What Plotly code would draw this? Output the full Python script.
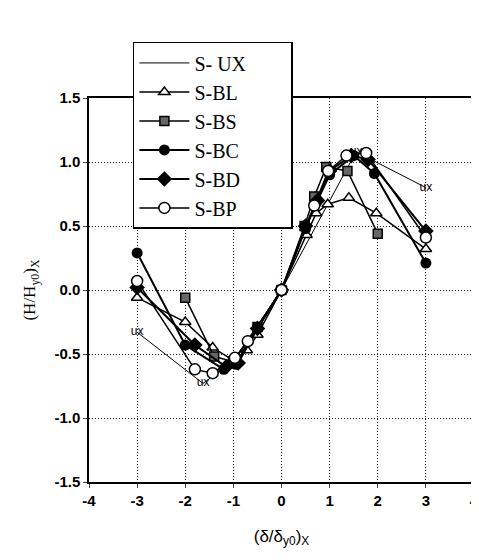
import plotly.graph_objects as go

# data
ux_x = [-3, -1.63, -1.0, 0, 1.55, 3]
ux_y = [-0.33, -0.73, -0.55, 0, 1.08, 0.80]

bl_x = [-3, -2, -1.43, -1.0, -0.72, -0.5, 0, 0.52, 0.72, 0.96, 1.4, 1.97, 3]
bl_y = [-0.06, -0.25, -0.45, -0.55, -0.47, -0.35, 0, 0.43, 0.60, 0.67, 0.72, 0.60, 0.32]

bs_x = [-2, -1.4, -1.0, -0.5, 0, 0.48, 0.68, 0.93, 1.37, 2.0]
bs_y = [-0.06, -0.52, -0.56, -0.29, 0, 0.50, 0.73, 0.96, 0.93, 0.44]

bc_x = [-3, -2, -1.2, -0.95, -0.5, 0, 0.5, 0.72, 1.0, 1.5, 1.93, 3]
bc_y = [0.29, -0.43, -0.62, -0.58, -0.30, 0, 0.48, 0.68, 0.90, 1.05, 0.91, 0.21]

bd_x = [-3, -1.8, -1.15, -0.9, -0.5, 0, 0.5, 0.75, 1.0, 1.45, 1.8, 3]
bd_y = [0.02, -0.43, -0.60, -0.57, -0.30, 0, 0.50, 0.70, 0.93, 1.05, 1.02, 0.46]

bp_x = [-3, -1.8, -1.43, -0.97, -0.7, 0, 0.68, 0.97, 1.35, 1.76, 3]
bp_y = [0.07, -0.62, -0.65, -0.53, -0.40, 0, 0.66, 0.93, 1.05, 1.07, 0.41]

x_ticks = [-4, -3, -2, -1, 0, 1, 2, 3, 4]
y_ticks = [-1.5, -1.0, -0.5, 0.0, 0.5, 1.0, 1.5]

pad = '\u00a0' * 8

fig = go.Figure()

fig.add_trace(go.Scatter(x=ux_x, y=ux_y, name='S- UX' + pad, mode='lines+text',
                         text=['ux'] * len(ux_x), textposition='middle center',
                         textfont=dict(family='Liberation Sans', size=12, color='#000000'),
                         line=dict(color='black', width=1)))
fig.add_trace(go.Scatter(x=bl_x, y=bl_y, name='S-BL', mode='lines+markers',
                         line=dict(color='black', width=1.5),
                         marker=dict(symbol='triangle-up', size=10, color='white',
                                     line=dict(color='black', width=1.5))))
fig.add_trace(go.Scatter(x=bs_x, y=bs_y, name='S-BS', mode='lines+markers',
                         line=dict(color='black', width=1.5),
                         marker=dict(symbol='square', size=9, color='#666',
                                     line=dict(color='black', width=1.5))))
fig.add_trace(go.Scatter(x=bc_x, y=bc_y, name='S-BC', mode='lines+markers',
                         line=dict(color='black', width=2),
                         marker=dict(symbol='circle', size=11, color='black')))
fig.add_trace(go.Scatter(x=bd_x, y=bd_y, name='S-BD', mode='lines+markers',
                         line=dict(color='black', width=2),
                         marker=dict(symbol='diamond', size=12, color='black')))
fig.add_trace(go.Scatter(x=bp_x, y=bp_y, name='S-BP', mode='lines+markers',
                         line=dict(color='black', width=1.5),
                         marker=dict(symbol='circle', size=11, color='white',
                                     line=dict(color='black', width=1.5))))

tick_font = dict(family='Liberation Sans', size=15, color='black', weight='bold')

# the page body adds an 8px margin all round, so the figure is smaller than the window
fig.update_layout(
    width=471, height=544,
    margin=dict(l=81, r=5, t=90, b=70, autoexpand=False),
    paper_bgcolor='white', plot_bgcolor='white',
    legend=dict(x=0.114, y=1.146, xanchor='left', yanchor='top',
                bgcolor='white', bordercolor='black', borderwidth=1.5,
                font=dict(family='Liberation Serif', size=20, color='black'),
                itemwidth=50),
)

fig.update_xaxes(range=[-4, 4], tickvals=x_ticks, ticktext=[str(v) for v in x_ticks],
                 tickfont=tick_font, showgrid=True, gridcolor='#222',
                 griddash='1px,2px', gridwidth=1, zeroline=False, showline=True,
                 linecolor='black', linewidth=1.5, mirror=True, ticks='outside',
                 ticklen=4, automargin=False, ticklabeloverflow='allow',
                 title=dict(text='(δ/δ<sub>y0</sub>)<sub>X</sub>',
                            font=dict(family='Liberation Sans', size=17, color='black'),
                            standoff=22))
fig.update_yaxes(range=[-1.5, 1.5], tickvals=y_ticks, ticktext=[f'{v:.1f}' for v in y_ticks],
                 tickfont=tick_font, showgrid=True, gridcolor='#222',
                 griddash='1px,2px', gridwidth=1, zeroline=False, showline=True,
                 linecolor='black', linewidth=1.5, mirror=True, ticks='outside',
                 ticklen=4, automargin=False,
                 title=dict(text='(H/H<sub>y0</sub>)<sub>X</sub>',
                            font=dict(family='Liberation Serif', size=17, color='black'),
                            standoff=14))

fig.write_html("out.html")
